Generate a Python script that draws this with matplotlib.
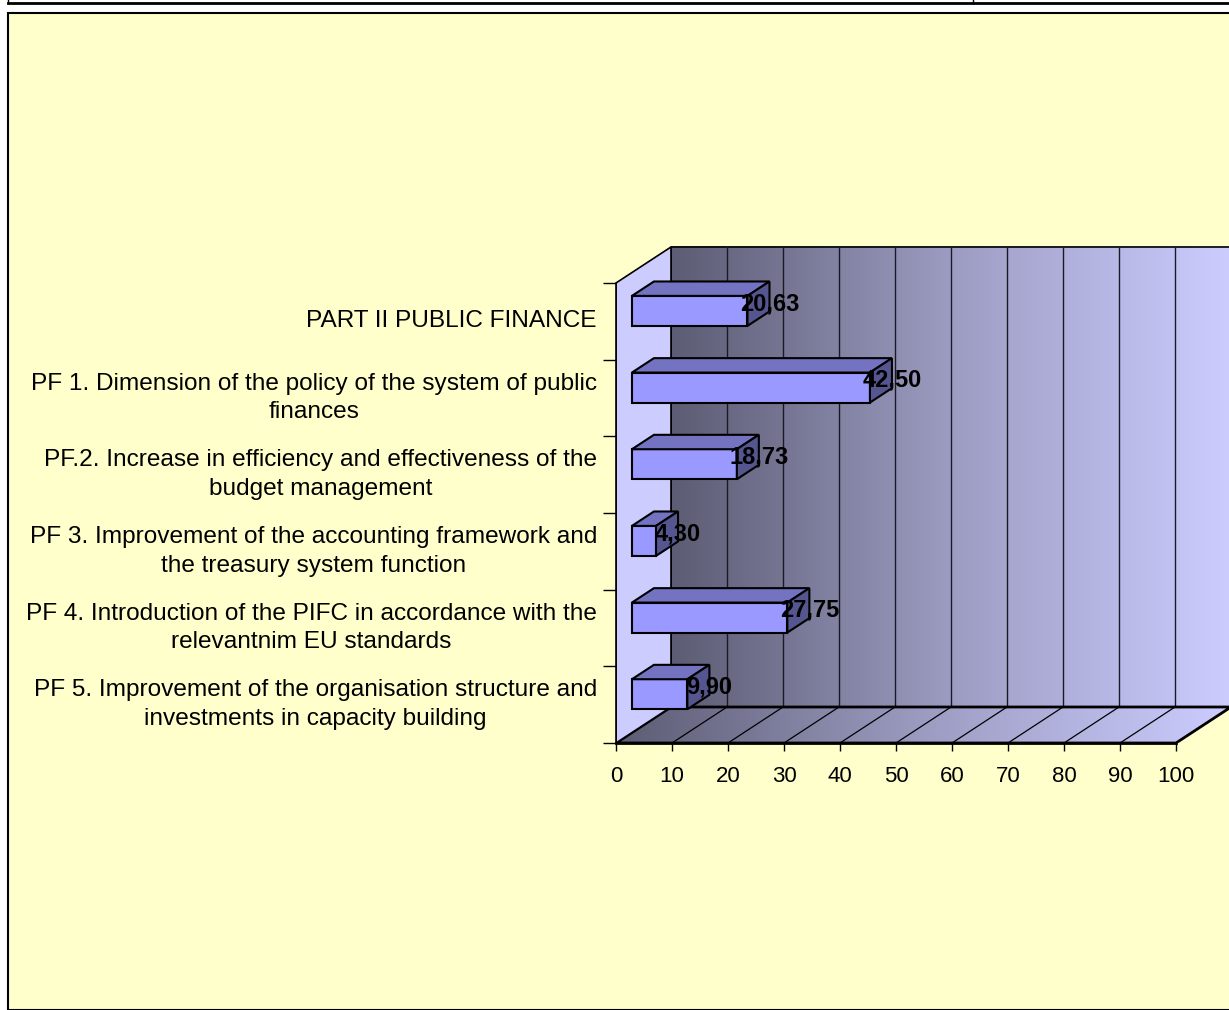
import matplotlib
matplotlib.use("Agg")
from matplotlib import pyplot as plt
from matplotlib.patches import Polygon, Rectangle
from matplotlib.lines import Line2D
from matplotlib.colors import LinearSegmentedColormap
import numpy as np

categories = [
    "PART II PUBLIC FINANCE",
    "PF 1. Dimension of the policy of the system of public\nfinances",
    "PF.2. Increase in efficiency and effectiveness of the\nbudget management",
    "PF 3. Improvement of the accounting framework and\nthe treasury system function",
    "PF 4. Introduction of the PIFC in accordance with the\nrelevantnim EU standards",
    "PF 5. Improvement of the organisation structure and\ninvestments in capacity building",
]
values = [20.63, 42.50, 18.73, 4.30, 27.75, 9.90]
xticks = list(range(0, 101, 10))

plt.rcParams['font.family'] = ['Liberation Sans', 'DejaVu Sans']

W, H = 1229, 1010
fig = plt.figure(figsize=(W / 100, H / 100), dpi=100)
fig.patch.set_facecolor("white")

# yellow panel and the cut-off table row above it
fig.add_artist(Rectangle((8 / W, 0), 1.1, 1 - 13 / H, transform=fig.transFigure,
                         facecolor="#FFFFCC", edgecolor="black", lw=1.5, zorder=0))
fig.add_artist(Line2D([8 / W, 1], [1 - 2.5 / H] * 2, transform=fig.transFigure, color="black", lw=2))
fig.add_artist(Line2D([8 / W] * 2, [1, 1 - 2.5 / H], transform=fig.transFigure, color="black", lw=1))
fig.add_artist(Line2D([973 / W] * 2, [1, 1 - 2.5 / H], transform=fig.transFigure, color="black", lw=1))

# axes: value 0 at x=616px, 5.6 px/unit; category 0 at y=743px, 76.67 px/unit
px_x, px_y = 5.6, 76.67
x0, y0 = 616, 743
xmax = (W - x0) / px_x
ytop = 240
ymax = (y0 - ytop) / px_y
ax = fig.add_axes([x0 / W, (H - y0) / H, 1 - x0 / W, (y0 - ytop) / H])
ax.set_xlim(0, xmax)
ax.set_ylim(0, ymax)
ax.patch.set_alpha(0)

n = len(categories)
dx, dy = 55 / px_x, 36 / px_y     # depth vector
d0, d1 = 0.29, 0.69               # bar depth range
bh = 30 / px_y

cmap = LinearSegmentedColormap.from_list("wall", ["#5C5C74", "#9C9CC2", "#CCCCFF"])
grad = np.linspace(0, 1, 256).reshape(1, -1)

# back wall
ax.imshow(grad, cmap=cmap, extent=[dx, 100 + dx, dy, n + dy], aspect="auto", zorder=1)
ax.plot([dx, dx, 100 + dx], [dy, n + dy, n + dy], color="black", lw=1.2, zorder=2)
for v in xticks[1:]:
    ax.plot([v + dx, v + dx], [dy, n + dy], color="#1a1a26", lw=1, zorder=2)

# floor
floor = Polygon([(0, 0), (100, 0), (100 + dx, dy), (dx, dy)], closed=True,
                facecolor="none", edgecolor="black", lw=2, zorder=3)
im = ax.imshow(grad, cmap=cmap, extent=[0, 100 + dx, 0, dy], aspect="auto", zorder=2)
ax.add_patch(floor)
im.set_clip_path(floor)
for v in xticks[1:-1]:
    ax.plot([v, v + dx], [0, dy], color="black", lw=0.9, zorder=3)

# left wall
ax.add_patch(Polygon([(0, 0), (dx, dy), (dx, n + dy), (0, n)], closed=True,
                     facecolor="#CCCCFF", edgecolor="black", lw=1.2, zorder=3))

# bars
pos = np.array([n - 0.5 - i for i in range(n)])
ax.barh(pos + d0 * dy, values, height=bh, left=d0 * dx, color="#9999FF",
        edgecolor="black", lw=1.5, zorder=5)
ddx, ddy = (d1 - d0) * dx, (d1 - d0) * dy
for p, v in zip(pos, values):
    xl = d0 * dx
    xr = v + d0 * dx
    yb = p + d0 * dy - bh / 2
    yt = p + d0 * dy + bh / 2
    ax.add_patch(Polygon([(xl, yt), (xr, yt), (xr + ddx, yt + ddy), (xl + ddx, yt + ddy)],
                         closed=True, facecolor="#7373C2", edgecolor="black", lw=1.5, zorder=5))
    ax.add_patch(Polygon([(xr, yb), (xr, yt), (xr + ddx, yt + ddy), (xr + ddx, yb + ddy)],
                         closed=True, facecolor="#55558F", edgecolor="black", lw=1.5, zorder=5))
    ax.text(xr + ddx, p + (d0 + d1) / 2 * dy, f"{v:.2f}".replace(".", ","),
            ha="center", va="center", fontsize=17, fontweight="bold", zorder=6)

# axes spines and ticks
for s in ["top", "right"]:
    ax.spines[s].set_visible(False)
ax.spines["left"].set_bounds(0, n)
ax.spines["bottom"].set_bounds(0, 100)
ax.spines["left"].set_linewidth(1.2)
ax.spines["bottom"].set_linewidth(2)
ax.spines["left"].set_zorder(4)
ax.spines["bottom"].set_zorder(4)

ax.set_xticks(xticks)
ax.set_xticklabels([str(t) for t in xticks], fontsize=16)
ax.tick_params(axis="x", direction="out", length=5.8, width=1, pad=11)

ax.set_yticks(range(n + 1))
ax.set_yticklabels([])
ax.tick_params(axis="y", which="major", direction="out", length=9.4, width=1)
ax.set_yticks(pos, minor=True)
ax.set_yticklabels(categories, minor=True, fontsize=17.6)
ax.tick_params(axis="y", which="minor", length=0, pad=13.7)
for t in ax.get_yticklabels(minor=True):
    t.set_multialignment("center")
    t.set_linespacing(1.4)
    t.set_verticalalignment("center")

fig.savefig("out.png", dpi=100)
